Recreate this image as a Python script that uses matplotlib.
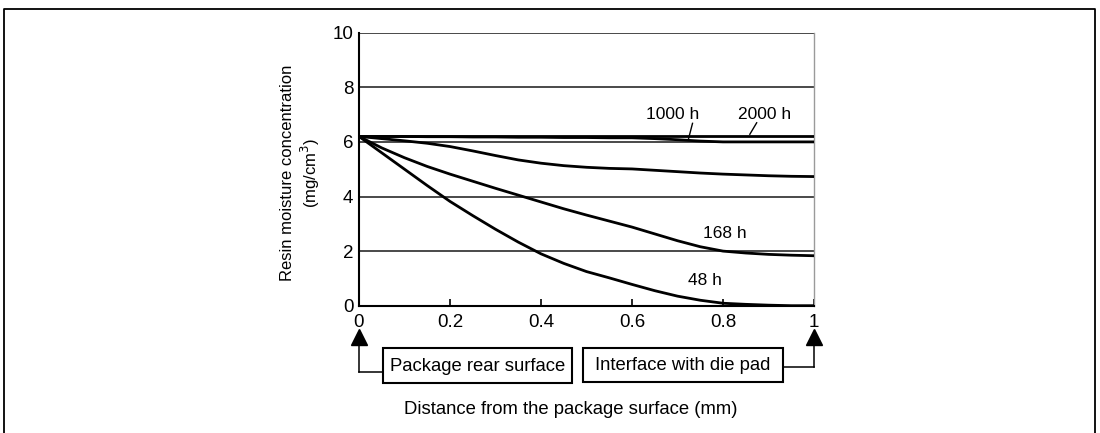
import matplotlib
matplotlib.use("Agg")
import matplotlib.pyplot as plt
from matplotlib.patches import Rectangle
from matplotlib.lines import Line2D
from matplotlib.transforms import blended_transform_factory

plt.rcParams['font.family'] = ['Liberation Sans', 'DejaVu Sans']

# Distance from the package surface (mm)
distance = [0.0, 0.05, 0.1, 0.15, 0.2, 0.25, 0.3, 0.35, 0.4, 0.45, 0.5,
            0.55, 0.6, 0.65, 0.7, 0.75, 0.8, 0.85, 0.9, 0.95, 1.0]

# Resin moisture concentration (mg/cm3) after each exposure time
conc_48h = [6.2, 5.6, 5.0, 4.4, 3.82, 3.3, 2.8, 2.33, 1.9, 1.55, 1.25,
            1.02, 0.78, 0.55, 0.35, 0.2, 0.09, 0.05, 0.02, 0.0, 0.0]
conc_168h = [6.2, 5.78, 5.42, 5.1, 4.82, 4.56, 4.3, 4.05, 3.8, 3.55, 3.32,
             3.1, 2.88, 2.63, 2.38, 2.16, 2.0, 1.93, 1.88, 1.85, 1.83]
conc_mid = [6.2, 6.12, 6.04, 5.95, 5.83, 5.67, 5.5, 5.34, 5.22, 5.13, 5.07,
            5.03, 5.01, 4.96, 4.91, 4.86, 4.82, 4.79, 4.76, 4.74, 4.73]
conc_1000h = [6.2, 6.2, 6.2, 6.19, 6.19, 6.18, 6.18, 6.17, 6.17, 6.16, 6.16,
              6.15, 6.15, 6.12, 6.08, 6.03, 6.0, 6.0, 6.0, 6.0, 6.0]
conc_2000h = [6.2] * len(distance)

x_ticks = [0, 0.2, 0.4, 0.6, 0.8, 1]
x_ticklabels = ['0', '0.2', '0.4', '0.6', '0.8', '1']
y_ticks = [0, 2, 4, 6, 8, 10]

W, H = 1100, 433
fig = plt.figure(figsize=(W / 100, H / 100), dpi=100)


def fy(p):
    return 1 - p / H


def fx(p):
    return p / W


ax = fig.add_axes([fx(359), fy(305.7), fx(814) - fx(359), fy(32.7) - fy(305.7)])
ax.set_xlim(0, 1)
ax.set_ylim(0, 10)

# horizontal grid
for yv in y_ticks[1:]:
    ax.axhline(yv, color='#2a2a2a', lw=1.2, zorder=1)

for series in (conc_48h, conc_168h, conc_mid, conc_1000h, conc_2000h):
    ax.plot(distance, series, color='black', lw=2.0, zorder=3,
            solid_capstyle='butt', solid_joinstyle='round')

ax.spines['top'].set_visible(False)
ax.spines['right'].set_color('#9a9a9a')
ax.spines['right'].set_linewidth(1.0)
ax.spines['left'].set_linewidth(1.5)
ax.spines['bottom'].set_linewidth(1.5)

fs_tick = 13.5
fs_box = 13.3
fs_curve = 12.5
ax.set_xticks(x_ticks)
ax.set_xticklabels(x_ticklabels, fontsize=fs_tick)
ax.set_yticks(y_ticks)
ax.set_yticklabels([str(v) for v in y_ticks], fontsize=fs_tick)
ax.tick_params(axis='x', direction='in', length=5, width=1.2, pad=6)
ax.tick_params(axis='y', length=0, pad=4)

# curve labels with leader lines
ax.text(0.69, 7.02, '1000 h', fontsize=fs_curve, ha='center', va='center')
ax.text(0.892, 7.02, '2000 h', fontsize=fs_curve, ha='center', va='center')
ax.plot([0.733, 0.724], [6.68, 6.1], color='black', lw=1.0)
ax.plot([0.874, 0.859], [6.70, 6.28], color='black', lw=1.0)
ax.text(0.804, 2.65, '168 h', fontsize=fs_curve, ha='center', va='center')
ax.text(0.76, 0.94, '48 h', fontsize=fs_curve, ha='center', va='center')

# y-axis title
fig.text(fx(301), fy(173), 'Resin moisture concentration\n(mg/cm$^3$)', rotation=90,
         ha='center', va='center', fontsize=12.0, linespacing=1.2)

# x-axis title
fig.text(fx(571), fy(409), 'Distance from the package surface (mm)', ha='center',
         va='center', fontsize=fs_box)

# markers for the two surfaces, positioned along the data x axis
tr = blended_transform_factory(ax.transData, fig.transFigure)
for xv in (0, 1):
    fig.add_artist(Line2D([xv], [fy(336.5)], marker='^', markersize=11.5, color='black',
                          transform=tr, linestyle='none'))

fig.add_artist(Line2D([0, 0], [fy(343), fy(371.7)], color='black', lw=1.1, transform=tr))
fig.add_artist(Line2D([fx(359), fx(383.3)], [fy(371.7), fy(371.7)], color='black', lw=1.1,
                      transform=fig.transFigure))
fig.add_artist(Line2D([1, 1], [fy(343), fy(366.7)], color='black', lw=1.1, transform=tr))
fig.add_artist(Line2D([fx(782.7), fx(814)], [fy(366.7), fy(366.7)], color='black', lw=1.1,
                      transform=fig.transFigure))

boxes = [
    (383.3, 348.3, 571.7, 382.7, 'Package rear surface'),
    (582.7, 347.7, 782.7, 381.7, 'Interface with die pad'),
]
for x0, y0, x1, y1, label in boxes:
    fig.add_artist(Rectangle((fx(x0), fy(y1)), fx(x1) - fx(x0), fy(y0) - fy(y1),
                             fill=False, edgecolor='black', lw=1.5,
                             transform=fig.transFigure))
    fig.text(fx((x0 + x1) / 2), fy((y0 + y1) / 2 + 1), label, ha='center', va='center',
             fontsize=fs_box)

# outer border
fig.add_artist(Line2D([fx(4), fx(4), fx(1095), fx(1095)], [0, fy(9), fy(9), 0],
                      color='black', lw=1.3, transform=fig.transFigure))

fig.savefig('out.png', dpi=100)
